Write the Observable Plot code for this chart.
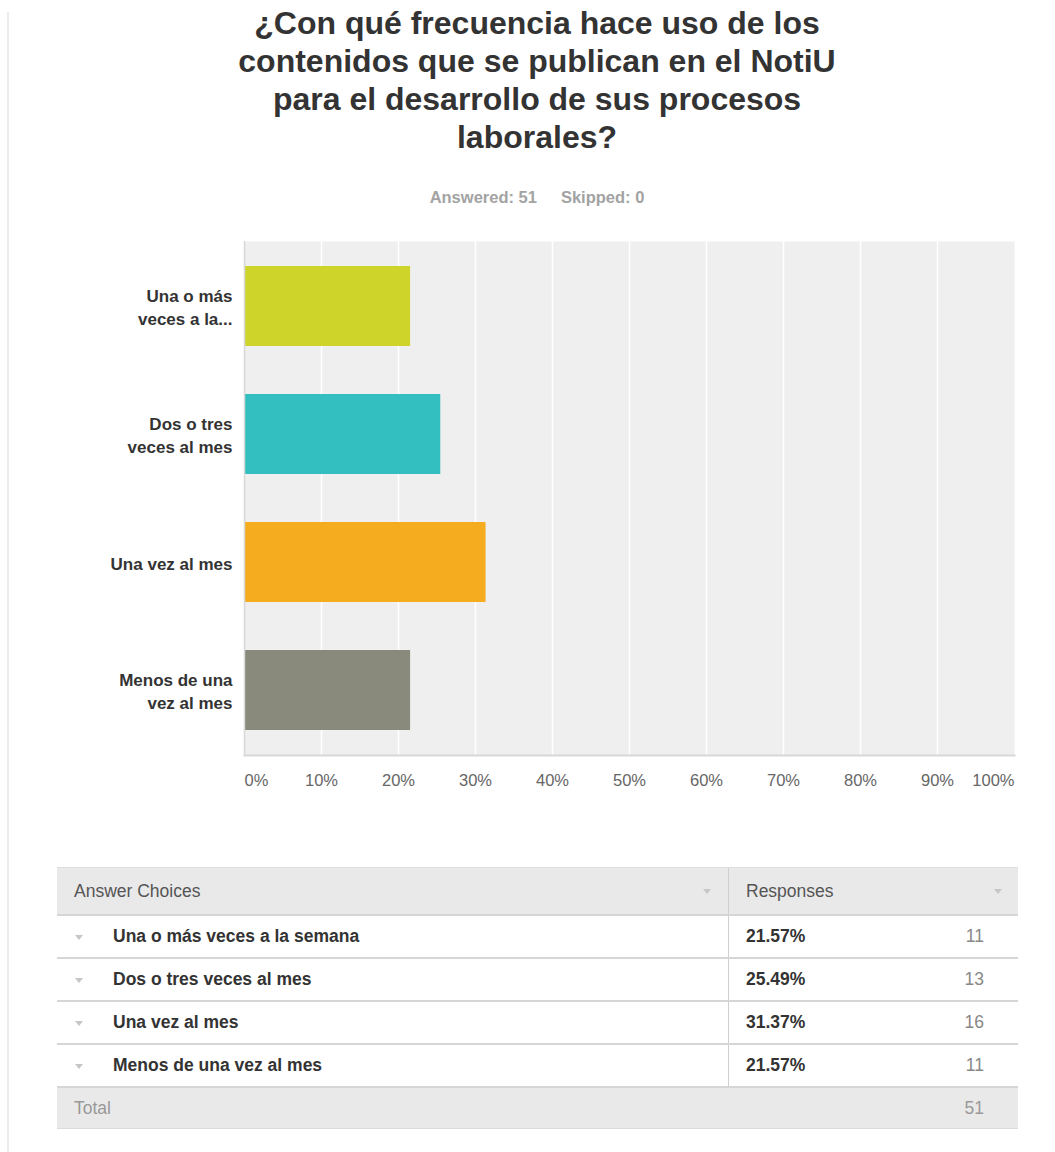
<!DOCTYPE html>
<html>
<head>
<meta charset="utf-8">
<script src="https://cdn.jsdelivr.net/npm/d3@7"></script>
<script src="https://cdn.jsdelivr.net/npm/@observablehq/plot@0.6"></script>
<style>
  html, body { margin: 0; padding: 0; background: #fff; }
  body { width: 1055px; height: 1152px; position: relative; overflow: hidden;
         font-family: "Liberation Sans", Arial, Helvetica, sans-serif; }
  #edge { position: absolute; left: 7px; top: 12px; bottom: 0; width: 2px; background: #ececec; }
  #title { position: absolute; left: 0; top: 4px; width: 1074px; text-align: center;
           font-size: 32px; font-weight: bold; line-height: 38px; color: #333; }
  #subtitle { position: absolute; left: 0; top: 187px; width: 1074px; text-align: center;
              font-size: 16.5px; font-weight: bold; line-height: 20px; color: #a3a3a3; }
  #subtitle span + span { margin-left: 24px; }
  #chart { position: absolute; left: 0; top: 221px; }
  #table { position: absolute; left: 57px; top: 867px; width: 961px; font-size: 17.5px; }
  .row { position: relative; height: 43px; box-sizing: border-box; border-top: 2px solid #d6d6d6; display: flex; }
  .row.head { height: 47px; background: #e9e9e9; border-top: 1px solid #dedede; }
  .row.total { background: #e9e9e9; border-bottom: 1px solid #dcdcdc; }
  .cell { position: relative; height: 100%; display: flex; align-items: center; box-sizing: border-box; }
  .left { width: 671px; }
  .right { width: 290px; }
  .row.head .right, .row.body .right { border-left: 1px solid #cfcfcf; }
  .arrow { position: absolute; width: 0; height: 0; border-left: 4px solid transparent;
           border-right: 4px solid transparent; border-top: 5px solid #c6c6c6; top: 50%; margin-top: -2px; }
  .lbl { position: absolute; left: 56px; font-weight: bold; color: #333; }
  .hdr { position: absolute; left: 17px; color: #555; }
  .pct { position: absolute; left: 17px; font-weight: bold; color: #333; }
  .cnt { position: absolute; right: 34px; color: #888; }
  .tot { position: absolute; left: 17px; color: #999; }
</style>
</head>
<body>
<div id="edge"></div>
<div id="title"></div>
<div id="subtitle"></div>
<div id="chart"></div>
<div id="table"></div>
<script>
// ---- data ----
const titleLines = ["¿Con qué frecuencia hace uso de los", "contenidos que se publican en el NotiU", "para el desarrollo de sus procesos", "laborales?"];
const answered = 51;
const skipped = 0;
const categories = ["Una o más veces a la semana", "Dos o tres veces al mes", "Una vez al mes", "Menos de una vez al mes"];
const axisLabels = ["Una o más\nveces a la...", "Dos o tres\nveces al mes", "Una vez al mes", "Menos de una\nvez al mes"];
const percents = [21.57, 25.49, 31.37, 21.57];
const counts = [11, 13, 16, 11];
const total = 51;
const barColors = ["#cfd42b", "#33bfc0", "#f5ac1e", "#898a7c"];
const xTicks = [0, 10, 20, 30, 40, 50, 60, 70, 80, 90, 100];
const tableHeaders = ["Answer Choices", "Responses"];

// ---- title ----
document.getElementById("title").innerHTML = titleLines.join("<br>");
document.getElementById("subtitle").innerHTML =
  `<span>Answered: ${answered}</span><span>Skipped: ${skipped}</span>`;

// ---- chart ----
const data = categories.map((c, i) => ({cat: c, label: axisLabels[i], pct: percents[i]}));
const labelOf = Object.fromEntries(categories.map((c, i) => [c, axisLabels[i]]));
const tickText = {fill: "#666", fontSize: 16.5, frameAnchor: "bottom", dy: 30};

const chart = Plot.plot({
  width: 1055,
  height: 584,
  marginLeft: 244,
  marginRight: 41,
  marginTop: 20,
  marginBottom: 50,
  style: {fontFamily: "'Liberation Sans', Arial, Helvetica, sans-serif", background: "transparent", overflow: "visible"},
  x: {domain: [0, 100], axis: null},
  y: {domain: categories, paddingInner: 0.377, paddingOuter: 0.1885},
  color: {domain: categories, range: barColors},
  marks: [
    Plot.frame({fill: "#efefef"}),
    Plot.ruleX(xTicks.slice(1, -1), {stroke: "#fff", strokeWidth: 1.5}),
    Plot.barX(data, {x: "pct", y: "cat", fill: "cat"}),
    Plot.ruleX([0], {stroke: "#d8d8d8", strokeWidth: 1.5}),
    Plot.frame({anchor: "bottom", stroke: "#d8d8d8", strokeWidth: 2}),
    Plot.axisY({tickSize: 0, tickPadding: 12, tickFormat: d => labelOf[d], fontSize: 17,
                fontWeight: "bold", fill: "#333", lineHeight: 1.35, label: null}),
    Plot.text(xTicks.slice(1, -1), {x: d => d, text: d => d + "%", ...tickText}),
    Plot.text(xTicks.slice(0, 1), {x: d => d, text: d => d + "%", textAnchor: "start", ...tickText}),
    Plot.text(xTicks.slice(-1), {x: d => d, text: d => d + "%", textAnchor: "end", ...tickText})
  ]
});
document.getElementById("chart").appendChild(chart);

// ---- table ----
const tbl = document.getElementById("table");
let html = `<div class="row head">
  <div class="cell left"><span class="hdr">${tableHeaders[0]}</span><span class="arrow" style="left:646px"></span></div>
  <div class="cell right"><span class="hdr">${tableHeaders[1]}</span><span class="arrow" style="left:265px"></span></div>
</div>`;
categories.forEach((c, i) => {
  html += `<div class="row body">
    <div class="cell left"><span class="arrow" style="left:18px"></span><span class="lbl">${c}</span></div>
    <div class="cell right"><span class="pct">${percents[i].toFixed(2)}%</span><span class="cnt">${counts[i]}</span></div>
  </div>`;
});
html += `<div class="row total">
  <div class="cell left"><span class="tot">Total</span></div>
  <div class="cell right"><span class="cnt" style="color:#999">${total}</span></div>
</div>`;
tbl.innerHTML = html;
</script>
</body>
</html>
